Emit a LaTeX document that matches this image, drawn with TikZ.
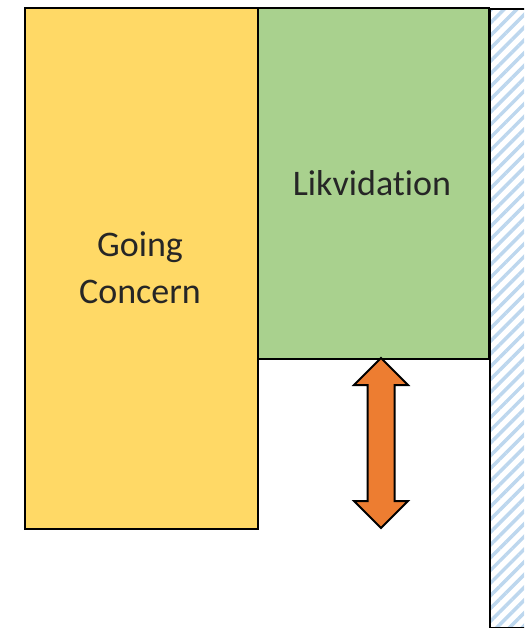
\documentclass[tikz,border=0pt]{standalone}
\usepackage{fontspec}
\setmainfont[Ligatures=NoCommon]{Carlito}
\usetikzlibrary{positioning,calc,patterns.meta}
\definecolor{gcyellow}{HTML}{FFD966}
\definecolor{lqgreen}{HTML}{A9D18E}
\definecolor{hatchblue}{HTML}{BDD7EE}
\definecolor{arroworange}{HTML}{ED7D31}

\begin{document}
\begin{tikzpicture}[x=1pt,y=-1pt,line width=2pt,
      block/.style={draw=black,rectangle,inner sep=0pt,align=center},
      label text/.style={font=\fontsize{36}{47}\selectfont,align=center,text=black!85},
      hatch/.style={draw=black,pattern={Lines[angle=45,distance=9pt,line width=3.5pt]},
        pattern color=hatchblue}]
    \clip (0,0) rectangle (524,628);
    \node[block,fill=gcyellow,minimum width=233pt,minimum height=521pt,anchor=north west]
      (gc) at (24,7) {};
    \node[block,fill=lqgreen,minimum width=231pt,minimum height=351pt,anchor=north west]
      (lq) at (257,7) {};
    \node[block,hatch,minimum width=50pt,minimum height=619pt,anchor=north west]
      (bar) at (488,7) {};
    \node[label text] (gctext) at (140,268) {Going\\Concern};
    \node[label text] (lqtext) at (372,183) {Likvidation};
    % double arrow below the green block
    \coordinate (top) at (381,358);
    \coordinate (bot) at (381,528);
    \draw[fill=arroworange,line join=miter] (top) -- ++(27,27) -- ++(-13.5,0) -- ($(bot)+(13.5,-27)$)
      -- ++(13.5,0) -- (bot) -- ++(-27,-27) -- ++(13.5,0) -- ($(top)+(-13.5,27)$)
      -- ++(-13.5,0) -- cycle;
  \end{tikzpicture}
\end{document}
